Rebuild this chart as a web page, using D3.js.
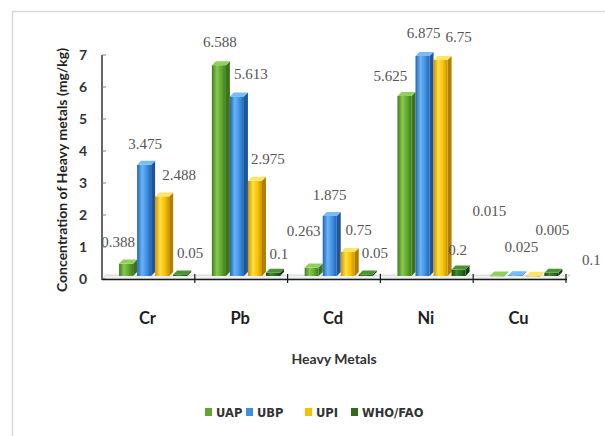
<!DOCTYPE html>
<html>
<head>
<meta charset="utf-8">
<script src="https://cdn.jsdelivr.net/npm/d3@7"></script>
<style>
  html, body { margin: 0; padding: 0; background: #fff; }
  svg { display: block; }
</style>
</head>
<body>
<svg id="chart" width="605" height="436"></svg>
<script>
// Heavy metal concentrations (mg/kg) per sampling source
const metals = ["Cr", "Pb", "Cd", "Ni", "Cu"];
const seriesNames = ["UAP", "UBP", "UPI", "WHO/FAO"];
const UAP = [0.388, 6.588, 0.263, 5.625, 0.015];
const UBP = [3.475, 5.613, 1.875, 6.875, 0.025];
const UPI = [2.488, 2.975, 0.75, 6.75, 0.005];
const WHO_FAO = [0.05, 0.1, 0.05, 0.2, 0.1];
const yTicks = [0, 1, 2, 3, 4, 5, 6, 7];

const seriesValues = [UAP, UBP, UPI, WHO_FAO];

// Label placement nudges (px) relative to each bar's top centre, per metal then series
const labelNudge = [
  [[-8, -25], [1, -24], [17, -24], [10, -24]],
  [[1, -26], [14, -25], [13, -25], [6, -22]],
  [[-8, -40], [0, -24], [11, -25], [9, -24]],
  [[-14, -23], [1, -26], [18, -26], [-1, -23]],
  [[-8, -68], [6, -31], [19, -49], [40, -16]]
];

// Face colours: [front light, front base, front dark, side, top]
const palette = {
  "UAP":     ["#86c94e", "#5ea62f", "#3f7d1d", "#3c731c", "#8fd05a"],
  "UBP":     ["#6ab4f5", "#3c8fe2", "#2464b0", "#1f5599", "#79bcf5"],
  "UPI":     ["#ffdf45", "#f7c200", "#c99400", "#b07f00", "#ffe46a"],
  "WHO/FAO": ["#3f8a2a", "#2f6a1f", "#1d4a12", "#173d0e", "#4a9433"]
};

const svg = d3.select("#chart");
const defs = svg.append("defs");

seriesNames.forEach((s, i) => {
  const c = palette[s];
  const g = defs.append("linearGradient")
    .attr("id", "grad" + i).attr("x1", "0").attr("x2", "1").attr("y1", "0").attr("y2", "0");
  g.append("stop").attr("offset", "0%").attr("stop-color", c[2]);
  g.append("stop").attr("offset", "35%").attr("stop-color", c[0]);
  g.append("stop").attr("offset", "70%").attr("stop-color", c[1]);
  g.append("stop").attr("offset", "100%").attr("stop-color", c[2]);
});

// Outer frame
svg.append("rect")
  .attr("x", 12.5).attr("y", 11.5).attr("width", 620).attr("height", 440)
  .attr("fill", "none").attr("stroke", "#d9d9d9").attr("stroke-width", 1.5);

const plotLeft = 102, plotRight = 566, plotTop = 55, plotBottom = 279;

const x = d3.scaleBand().domain(metals).range([plotLeft, plotRight]).padding(0);
const bw = x.bandwidth();
const xs = d3.scaleBand().domain(seriesNames)
  .range([bw * 0.184, bw * 0.918]).paddingInner(0.222).paddingOuter(0);
const y = d3.scaleLinear().domain([0, 7]).range([plotBottom, plotTop]);

const depth = 4;      // 3D extrusion
const lift = 3;       // bars stand on the floor slightly behind the axis

// Floor strip
svg.append("path")
  .attr("d", `M${plotLeft},${plotBottom} L${plotLeft + depth},${plotBottom - depth} L${plotRight + depth},${plotBottom - depth} L${plotRight},${plotBottom} Z`)
  .attr("fill", "#eef1f4").attr("stroke", "#bfbfbf").attr("stroke-width", 0.6);

// Y axis
const yAxisG = svg.append("g").attr("transform", `translate(${plotLeft},0)`);
yAxisG.append("line")
  .attr("x1", 0).attr("x2", 0).attr("y1", y(7)).attr("y2", plotBottom + 1)
  .attr("stroke", "#404040").attr("stroke-width", 1.6);
yAxisG.selectAll("line.tick").data(yTicks).join("line")
  .attr("class", "tick")
  .attr("x1", 0).attr("x2", 4)
  .attr("y1", d => y(d)).attr("y2", d => y(d))
  .attr("stroke", "#808080").attr("stroke-width", 1);
svg.append("g").selectAll("text").data(yTicks).join("text")
  .attr("x", 87).attr("y", d => y(d) + 5)
  .attr("text-anchor", "end")
  .attr("font-family", "Lato, 'Open Sans', sans-serif")
  .attr("font-weight", "bold").attr("font-size", 14)
  .attr("fill", "#333")
  .text(d => d);

// Bars
const groups = svg.append("g").selectAll("g.metal").data(metals).join("g")
  .attr("class", "metal")
  .attr("transform", d => `translate(${x(d)},0)`);

groups.each(function (m, mi) {
  const g = d3.select(this);
  seriesNames.forEach((s, si) => {
    const v = seriesValues[si][mi];
    const x0 = xs(s), w = xs.bandwidth();
    const yTop = y(v) - lift, yBase = y(0) - lift;
    const c = palette[s];
    // side face
    g.append("path")
      .attr("d", `M${x0 + w},${yTop} L${x0 + w + depth},${yTop - depth} L${x0 + w + depth},${yBase - depth} L${x0 + w},${yBase} Z`)
      .attr("fill", c[3]);
    // front face
    g.append("rect")
      .attr("x", x0).attr("y", yTop)
      .attr("width", w).attr("height", Math.max(0.8, yBase - yTop))
      .attr("fill", `url(#grad${si})`);
    // top face
    g.append("path")
      .attr("d", `M${x0},${yTop} L${x0 + depth},${yTop - depth} L${x0 + w + depth},${yTop - depth} L${x0 + w},${yTop} Z`)
      .attr("fill", c[4]);
  });
});

// X axis line and category dividers
svg.append("line")
  .attr("x1", plotLeft).attr("x2", plotRight + 1)
  .attr("y1", plotBottom + 0.5).attr("y2", plotBottom + 0.5)
  .attr("stroke", "#1a1a1a").attr("stroke-width", 1.6);
svg.append("g").selectAll("line").data(metals.slice(1).concat(["__end"])).join("line")
  .attr("x1", d => d === "__end" ? plotRight : x(d))
  .attr("x2", d => d === "__end" ? plotRight : x(d))
  .attr("y1", plotBottom - 5).attr("y2", plotBottom + 4)
  .attr("stroke", "#1a1a1a").attr("stroke-width", 1.2);

// Category labels
svg.append("g").selectAll("text").data(metals).join("text")
  .attr("x", d => x(d) + bw / 2 - 1)
  .attr("y", 324)
  .attr("text-anchor", "middle")
  .attr("font-family", "Lato, 'Open Sans', sans-serif")
  .attr("font-weight", "bold").attr("font-size", 16.5)
  .attr("fill", "#1e1e1e")
  .text(d => d);

// Value labels
const labelG = svg.append("g")
  .attr("font-family", "'Liberation Serif', 'DejaVu Serif', serif")
  .attr("font-size", 15).attr("fill", "#555").attr("text-anchor", "middle");
metals.forEach((m, mi) => {
  seriesNames.forEach((s, si) => {
    const v = seriesValues[si][mi];
    const cx = x(m) + xs(s) + xs.bandwidth() / 2;
    const [dx, dy] = labelNudge[mi][si];
    labelG.append("text")
      .attr("x", cx + dx)
      .attr("y", y(v) + dy + 5)
      .text(v);
  });
});

// Axis titles
svg.append("text")
  .attr("transform", "translate(67,170) rotate(-90)")
  .attr("text-anchor", "middle")
  .attr("font-family", "Lato, 'Open Sans', sans-serif")
  .attr("font-weight", "bold").attr("font-size", 14)
  .attr("fill", "#222")
  .text("Concentration of Heavy metals (mg/kg)");

svg.append("text")
  .attr("x", 334).attr("y", 364)
  .attr("text-anchor", "middle")
  .attr("font-family", "Lato, 'Open Sans', sans-serif")
  .attr("font-weight", "bold").attr("font-size", 14)
  .attr("fill", "#333")
  .text("Heavy Metals");

// Legend
const legendX = [205, 246, 305, 351];
const legend = svg.append("g").selectAll("g").data(seriesNames).join("g")
  .attr("transform", (d, i) => `translate(${legendX[i]},412)`);
legend.append("rect")
  .attr("x", 0).attr("y", -4).attr("width", 7).attr("height", 8)
  .attr("fill", d => palette[d][1]);
legend.append("text")
  .attr("x", 11).attr("y", 4.5)
  .attr("font-family", "'DejaVu Sans', sans-serif")
  .attr("font-weight", "bold").attr("font-size", 11.5)
  .attr("fill", "#333")
  .text(d => d);
</script>
</body>
</html>
